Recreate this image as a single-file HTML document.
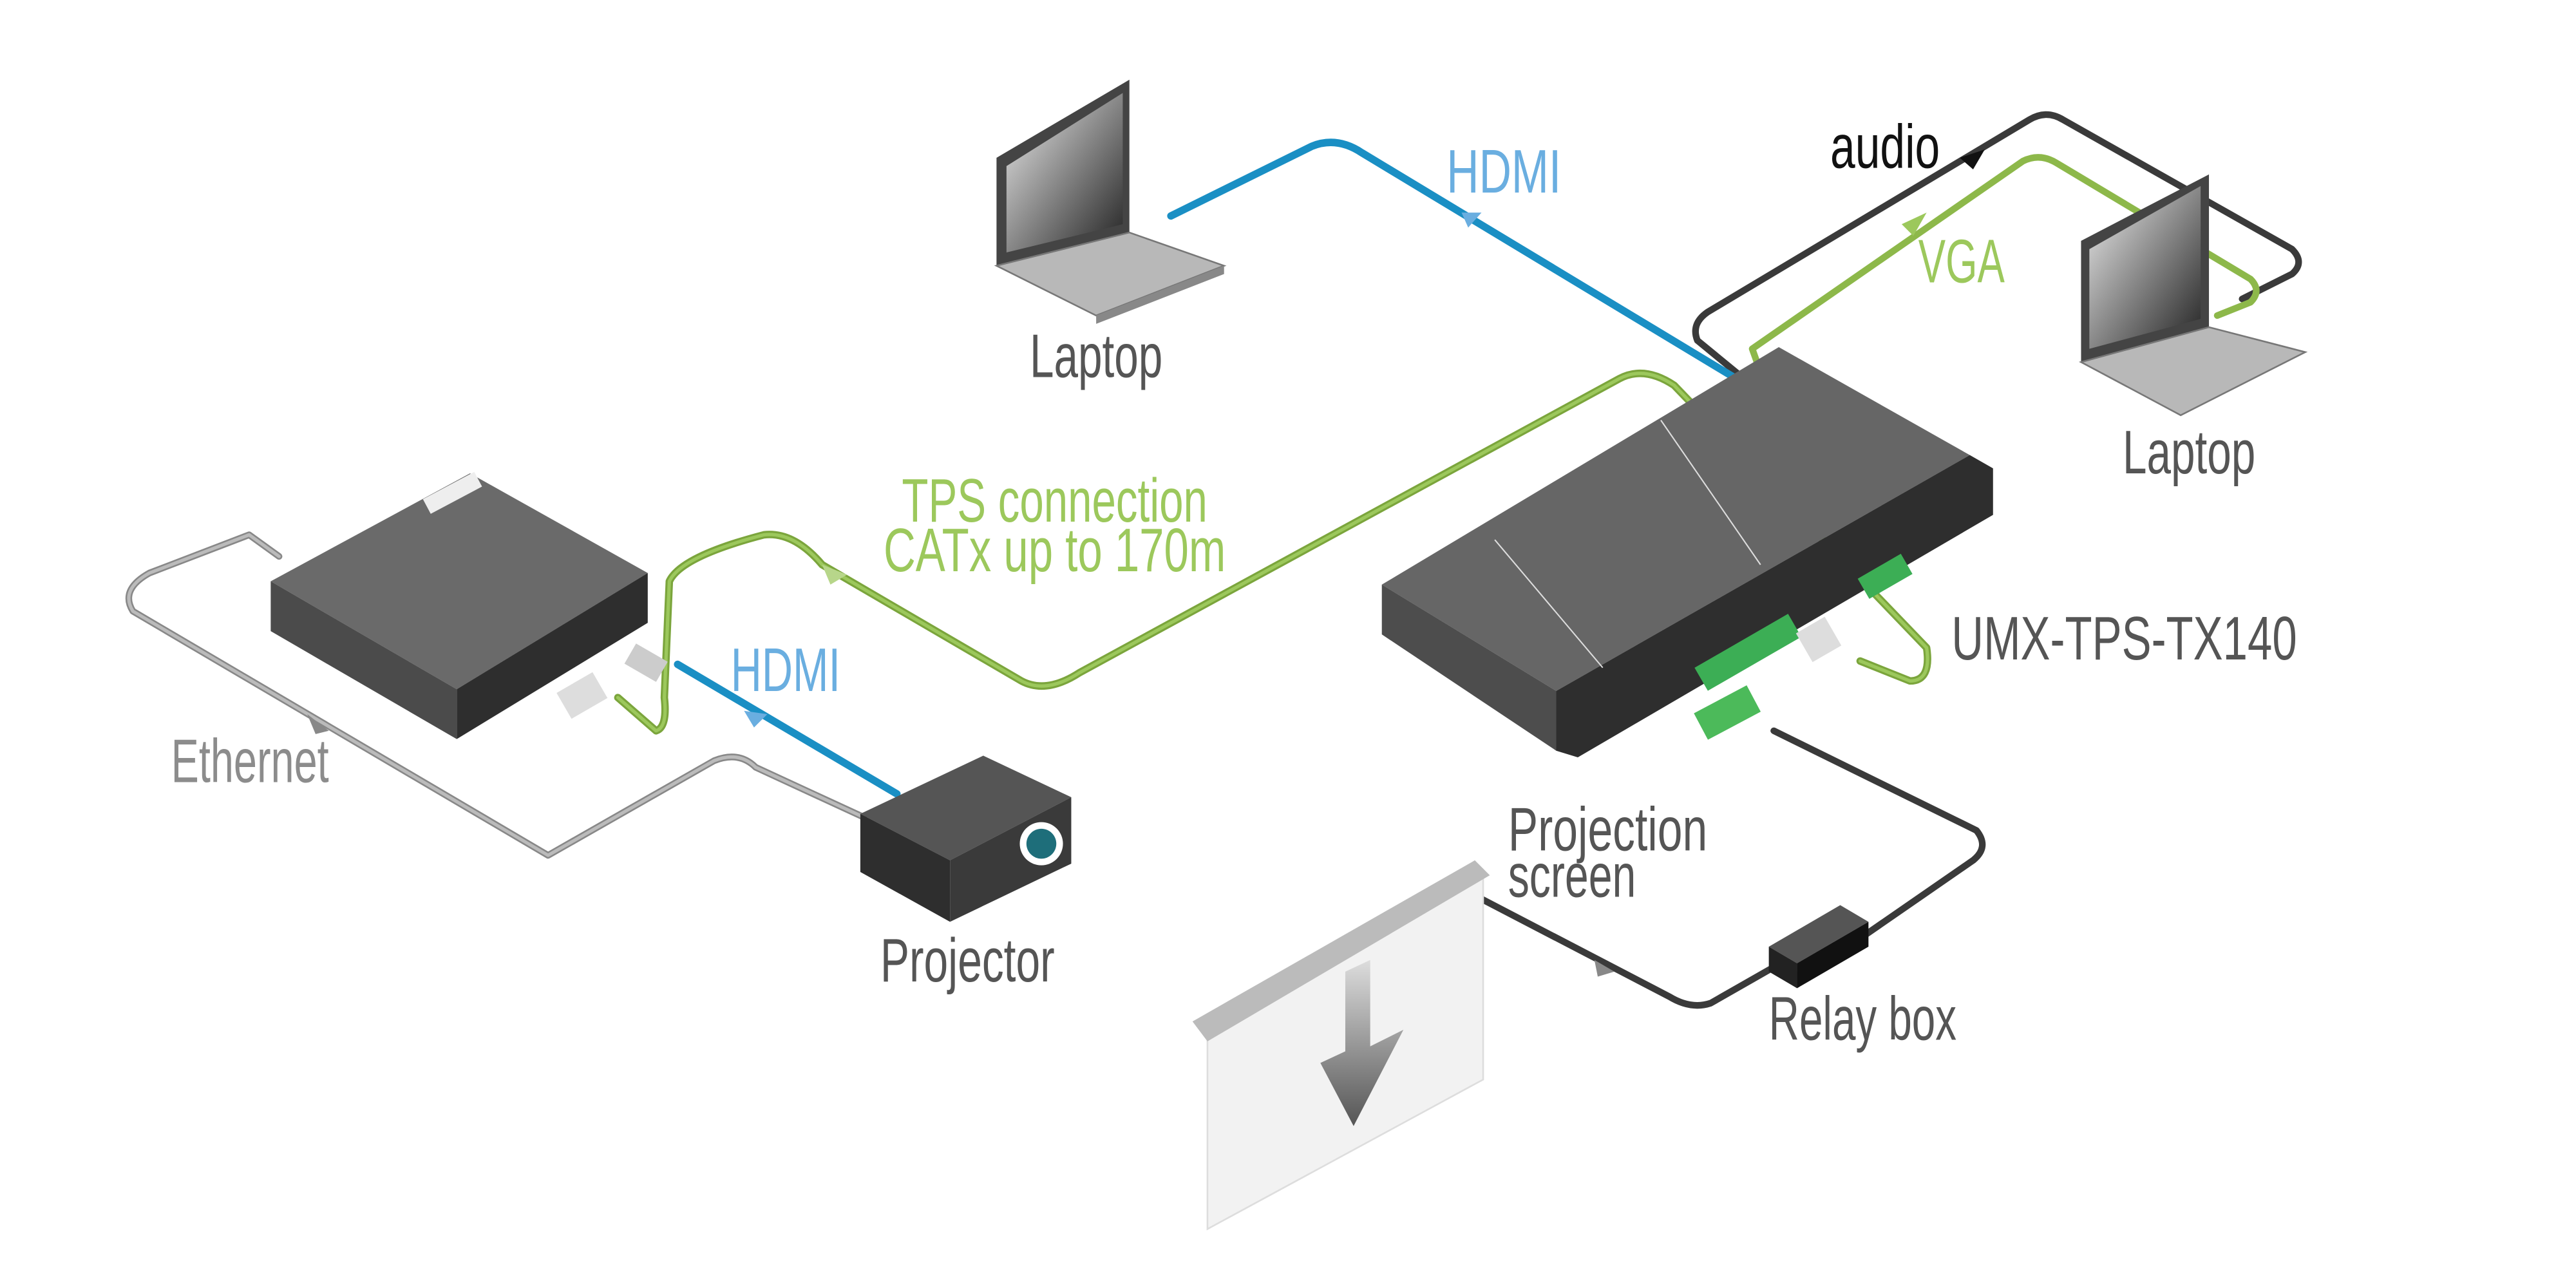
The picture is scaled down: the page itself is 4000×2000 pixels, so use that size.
<!DOCTYPE html>
<html><head><meta charset="utf-8"><style>html,body{margin:0;padding:0;background:#fff}svg{display:block}
text{font-family:"Liberation Sans Narrow","Liberation Sans",sans-serif;font-size:37px}</style></head><body>
<svg width="4000" height="2000" viewBox="0 0 1551 775.5" preserveAspectRatio="none" xmlns="http://www.w3.org/2000/svg">
<defs>
<linearGradient id="scr" x1="0" y1="0" x2="1" y2="1"><stop offset="0" stop-color="#eee"/><stop offset="1" stop-color="#222"/></linearGradient>
<linearGradient id="arr" x1="0" y1="0" x2="0" y2="1"><stop offset="0" stop-color="#ddd"/><stop offset="1" stop-color="#555"/></linearGradient>
</defs>
<g fill="none" stroke-linejoin="round" stroke-linecap="round">
<path d="M168,335 L150,322 L90,345 Q72,355 80,368 L330,515 L430,458 Q445,452 455,462 L520,492" stroke="#888" stroke-width="4"/>
<path d="M168,335 L150,322 L90,345 Q72,355 80,368 L330,515 L430,458 Q445,452 455,462 L520,492" stroke="#bbb" stroke-width="2"/>
<path d="M1050,228 L1022,205 Q1018,195 1028,188 L1222,72 Q1232,66 1242,72 L1380,150 Q1388,158 1380,165 L1350,180" stroke="#3a3a3a" stroke-width="4"/>
<path d="M1060,224 L1055,210 L1218,97 Q1228,92 1238,98 L1355,168 Q1362,175 1355,182 L1335,190" stroke="#8db84a" stroke-width="4"/>
<path d="M705,130 L790,88 Q805,82 820,92 L1052,232" stroke="#1a8fc4" stroke-width="4.5"/>
<path d="M408,400 L540,478" stroke="#1a8fc4" stroke-width="4.5"/>
<path d="M372,420 L395,440 Q402,438 400,420 L403,350 Q410,335 460,322 Q478,320 495,340 L615,410 Q630,418 650,405 L975,228 Q990,220 1008,232 L1160,390 Q1163,410 1150,410 L1120,398" stroke="#7ba53c" stroke-width="4.5"/>
<path d="M372,420 L395,440 Q402,438 400,420 L403,350 Q410,335 460,322 Q478,320 495,340 L615,410 Q630,418 650,405 L975,228 Q990,220 1008,232 L1160,390 Q1163,410 1150,410 L1120,398" stroke="#9cc85c" stroke-width="2"/>
<path d="M1068,440 L1190,500 Q1198,510 1188,518 L1120,565" stroke="#3a3a3a" stroke-width="4"/>
<path d="M1072,580 L1030,604 Q1018,608 1005,600 L880,535" stroke="#3a3a3a" stroke-width="4"/>
</g>
<g>
<polygon points="880,128 892,128 884,137" fill="#6aaee0"/>
<polygon points="448,428 462,430 454,438" fill="#6aaee0"/>
<polygon points="1180,95 1195,90 1188,102" fill="#111"/>
<polygon points="1145,135 1160,128 1152,142" fill="#9cc85c"/>
<polygon points="495,340 510,346 500,352" fill="#b7d68a"/>
<polygon points="185,430 198,440 190,442" fill="#888"/>
<polygon points="960,578 972,585 962,588" fill="#888"/>
</g>
<g>
<polygon points="600,95 680,48 680,140 600,160" fill="#444"/>
<polygon points="606,100 676,56 676,135 606,152" fill="url(#scr)"/>
<polygon points="600,160 680,140 737,160 660,190" fill="#b8b8b8" stroke="#777"/>
<polygon points="660,190 737,160 737,165 660,195" fill="#888"/>
</g>
<g>
<polygon points="1253,145 1330,105 1330,197 1253,218" fill="#444"/>
<polygon points="1258,150 1325,112 1325,192 1258,210" fill="url(#scr)"/>
<polygon points="1253,218 1330,197 1388,212 1313,250" fill="#b8b8b8" stroke="#777"/>
</g>
<g>
<polygon points="163,350 283,285 390,345 275,415" fill="#6a6a6a"/>
<polygon points="163,350 275,415 275,445 163,380" fill="#4b4b4b"/>
<polygon points="275,415 390,345 390,375 275,445" fill="#2e2e2e"/>
<rect x="255" y="292" width="35" height="10" fill="#eee" transform="rotate(-28 272 297)"/>
<rect x="338" y="410" width="25" height="18" fill="#ddd" transform="rotate(-30 350 419)"/>
<rect x="378" y="392" width="22" height="14" fill="#ccc" transform="rotate(30 389 399)"/>
</g>
<g>
<polygon points="832,352 1071,209 1186,274 937,416" fill="#666"/>
<polygon points="832,352 937,416 937,452 832,382" fill="#4d4d4d"/>
<polygon points="937,416 1186,274 1200,282 1200,310 950,456 937,452" fill="#2e2e2e"/>
<line x1="900" y1="325" x2="965" y2="402" stroke="#ddd" stroke-width="0.8"/>
<line x1="1000" y1="253" x2="1060" y2="340" stroke="#ddd" stroke-width="0.8"/>
<rect x="1020" y="385" width="65" height="16" fill="#3cae55" transform="rotate(-30 1052 393)"/>
<rect x="1120" y="340" width="30" height="14" fill="#3cae55" transform="rotate(-30 1135 347)"/>
<rect x="1085" y="375" width="20" height="20" fill="#ddd" transform="rotate(-30 1095 385)"/>
<rect x="1022" y="420" width="36" height="18" fill="#4cba5a" transform="rotate(-28 1040 429)"/>
</g>
<g>
<polygon points="518,490 592,455 645,480 572,518" fill="#555"/>
<polygon points="518,490 572,518 572,555 518,525" fill="#2e2e2e"/>
<polygon points="572,518 645,480 645,520 572,555" fill="#3a3a3a"/>
<circle cx="627" cy="508" r="13" fill="#fff"/>
<circle cx="627" cy="508" r="9" fill="#1e6e7a"/>
</g>
<polygon points="727,620 893,527 893,650 727,740" fill="#f2f2f2" stroke="#ddd"/>
<polygon points="718,615 888,518 897,527 727,627" fill="#bbb"/>
<polygon points="810,585 825,578 825,630 845,620 815,678 795,640 810,633" fill="url(#arr)"/>
<polygon points="1065,570 1108,545 1125,555 1082,580" fill="#555"/>
<polygon points="1065,570 1082,580 1082,595 1065,585" fill="#222"/>
<polygon points="1082,580 1125,555 1125,570 1082,595" fill="#111"/>
<g fill="#555">
<text x="620" y="227" textLength="80" lengthAdjust="spacingAndGlyphs">Laptop</text>
<text x="1278" y="285" textLength="80" lengthAdjust="spacingAndGlyphs">Laptop</text>
<text x="1175" y="397" textLength="208" lengthAdjust="spacingAndGlyphs" font-size="40">UMX-TPS-TX140</text>
<text x="530" y="591" textLength="105" lengthAdjust="spacingAndGlyphs">Projector</text>
<text x="908" y="512" textLength="120" lengthAdjust="spacingAndGlyphs">Projection</text>
<text x="908" y="540" textLength="77" lengthAdjust="spacingAndGlyphs">screen</text>
<text x="1065" y="626" textLength="113" lengthAdjust="spacingAndGlyphs">Relay box</text>
</g>
<text x="103" y="471" fill="#8c8c8c" textLength="95" lengthAdjust="spacingAndGlyphs">Ethernet</text>
<text x="1102" y="101" fill="#111" textLength="66" lengthAdjust="spacingAndGlyphs">audio</text>
<g fill="#6aaee0">
<text x="871" y="116" textLength="69" lengthAdjust="spacingAndGlyphs">HDMI</text>
<text x="440" y="416" textLength="66" lengthAdjust="spacingAndGlyphs">HDMI</text>
</g>
<g fill="#9cc85c">
<text x="1155" y="170" textLength="52" lengthAdjust="spacingAndGlyphs">VGA</text>
<text x="543" y="314" textLength="184" lengthAdjust="spacingAndGlyphs">TPS connection</text>
<text x="532" y="344" textLength="206" lengthAdjust="spacingAndGlyphs">CATx up to 170m</text>
</g>
</svg>
</body></html>
